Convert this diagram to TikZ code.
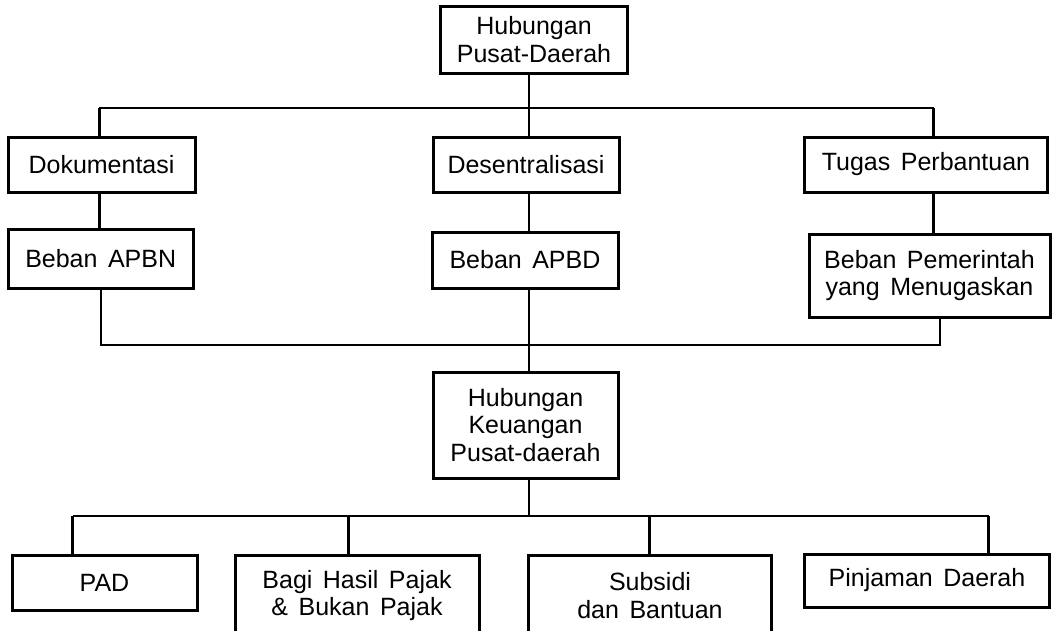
\documentclass[tikz,border=0pt]{standalone}
\usepackage{fontspec}
\setmainfont{Liberation Sans}
\begin{document}
\begin{tikzpicture}[x=1pt,y=-1pt,
  box/.style={draw,line width=3pt,rectangle,inner sep=0pt,align=center,
    font=\fontsize{25}{27.5}\selectfont,
    execute at begin node={\spaceskip=0.42em\relax}},
  conn/.style={line width=2.4pt}]
\useasboundingbox (0,0) rectangle (1053,630);
\clip (0,0) rectangle (1053,630);
\fill[white] (0,0) rectangle (1053,630);
% nodes
\node[box,minimum width=187pt,minimum height=67pt] (top) at (534,39.5) {Hubungan\\Pusat-Daerah};
\node[box,minimum width=187pt,minimum height=55pt] (dok) at (101.5,164.5) {Dokumentasi};
\node[box,minimum width=186pt,minimum height=55pt] (des) at (526,164.5) {Desentralisasi};
\node[box,minimum width=243pt,minimum height=55pt] (tug) at (926,164.5) {Tugas Perbantuan};
\node[box,minimum width=185pt,minimum height=59pt] (apbn) at (100.7,259) {Beban APBN};
\node[box,minimum width=186pt,minimum height=56pt] (apbd) at (525,260) {Beban APBD};
\node[box,minimum width=241pt,minimum height=83pt] (pem) at (929.5,275.5) {Beban Pemerintah\\yang Menugaskan};
\node[box,minimum width=185pt,minimum height=106pt] (keu) at (525.5,425) {Hubungan\\Keuangan\\Pusat-daerah};
\node[box,minimum width=185pt,minimum height=55pt] (pad) at (104.5,582.5) {PAD};
\node[box,minimum width=244pt,minimum height=80pt,anchor=north] (bagi) at (357,554) {Bagi Hasil Pajak\\\& Bukan Pajak};
\node[box,minimum width=243pt,minimum height=80pt,anchor=north] (sub) at (650,554) {Subsidi\\dan Bantuan};
\node[box,minimum width=245pt,minimum height=53pt] (pin) at (927,580.5) {Pinjaman Daerah};
% bus coordinates
\coordinate (b1) at (529,108);
\coordinate (b1l) at (99.4,108);
\coordinate (b1r) at (933.5,108);
\coordinate (b2) at (529,345);
\coordinate (b2l) at (100.7,345);
\coordinate (b2r) at (940,345);
\coordinate (b3) at (529,516);
\coordinate (b3a) at (72.5,516);
\coordinate (b3b) at (348.6,516);
\coordinate (b3c) at (649.4,516);
\coordinate (b3d) at (988.6,516);
% connectors
\draw[conn] (top.south -| b1) -- (b1);
\draw[conn] (b1l) -- (b1r);
\draw[conn] (b1l) -- (b1l |- dok.north);
\draw[conn] (b1) -- (b1 |- des.north);
\draw[conn] (b1r) -- (b1r |- tug.north);
\draw[conn] (dok.south -| b1l) -- (apbn.north -| b1l);
\draw[conn] (des.south -| b1) -- (apbd.north -| b1);
\draw[conn] (tug.south -| b1r) -- (pem.north -| b1r);
\draw[conn] (apbn.south -| b2l) -- (b2l) -- (b2r) -- (pem.south -| b2r);
\draw[conn] (apbd.south -| b2) -- (keu.north -| b2);
\draw[conn] (keu.south -| b3) -- (b3);
\draw[conn] (b3a) -- (b3d);
\draw[conn] (b3a) -- (b3a |- pad.north);
\draw[conn] (b3b) -- (b3b |- bagi.north);
\draw[conn] (b3c) -- (b3c |- sub.north);
\draw[conn] (b3d) -- (b3d |- pin.north);
\end{tikzpicture}
\end{document}
